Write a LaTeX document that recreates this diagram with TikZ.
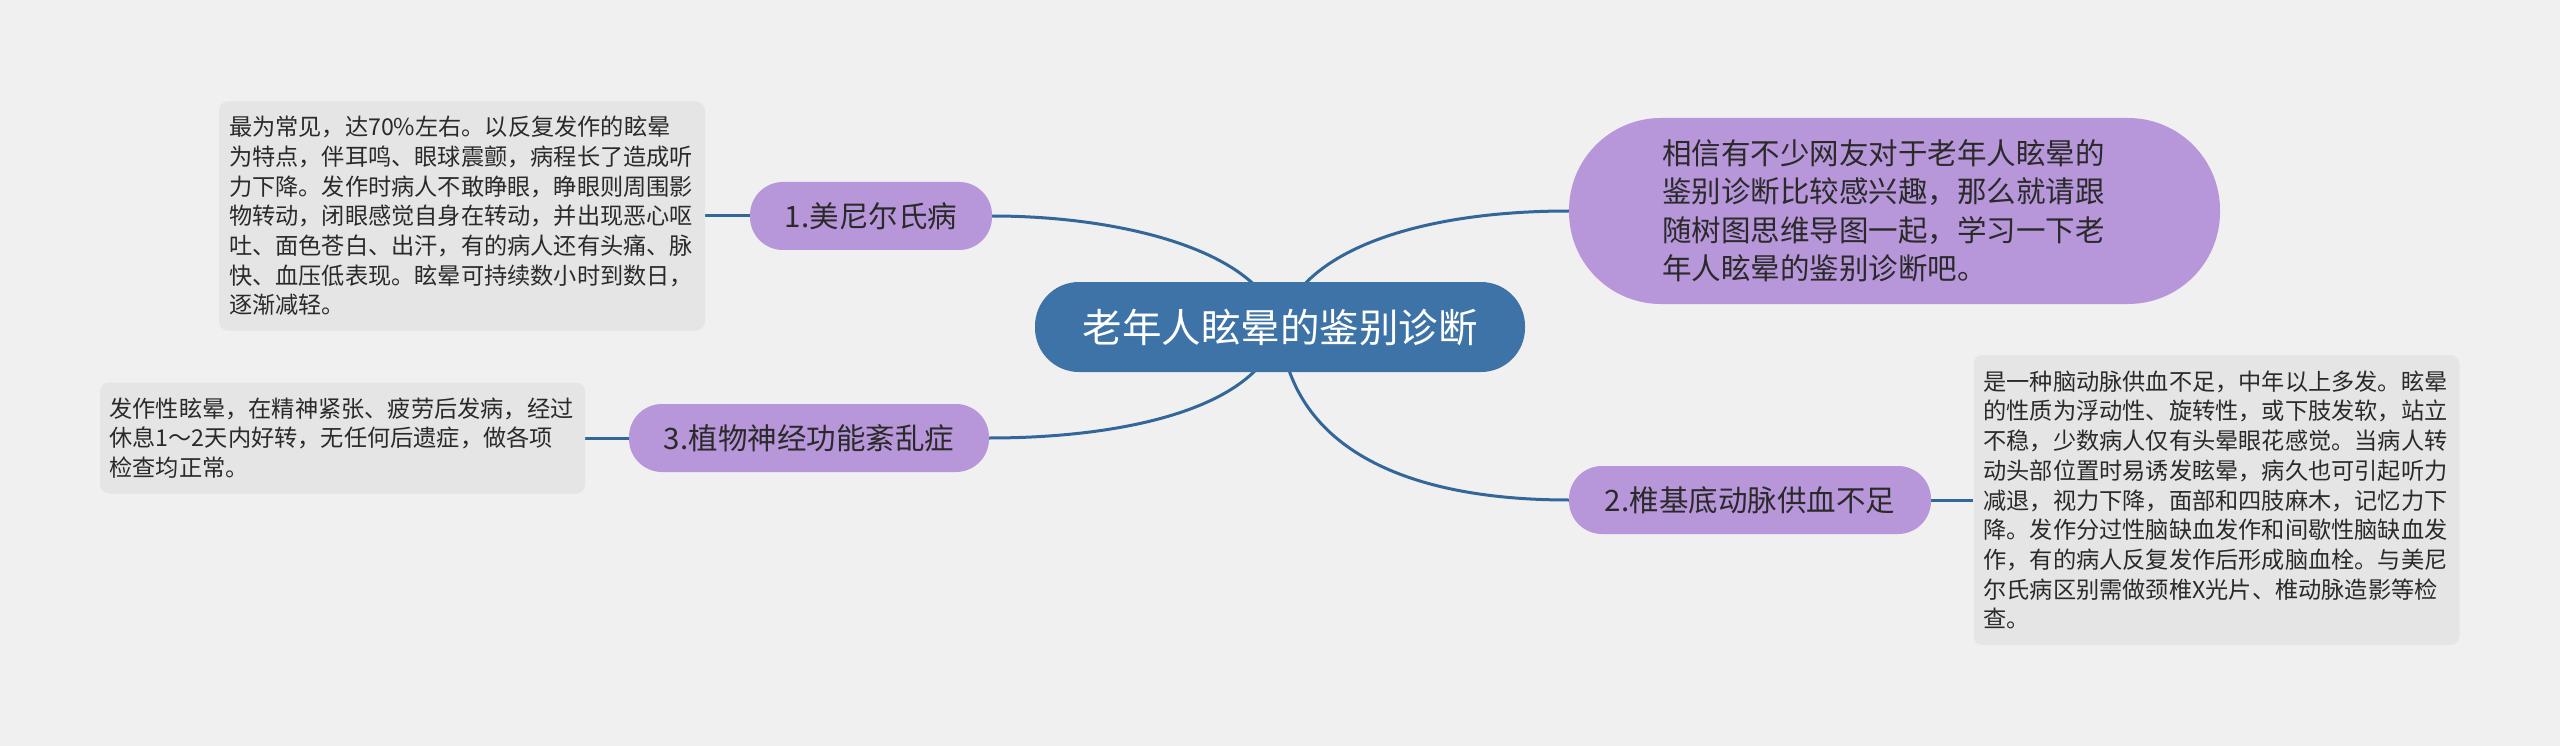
\documentclass[tikz,border=0pt]{standalone}
\usepackage{fontspec}
\newfontfamily\cjk{Noto Sans CJK SC}
\definecolor{bg}{HTML}{F0F0F0}
\definecolor{mainblue}{HTML}{3D73A6}
\definecolor{linkblue}{HTML}{33679A}
\definecolor{lilac}{HTML}{B796DA}
\definecolor{boxgray}{HTML}{E5E5E5}
\definecolor{ink}{HTML}{2A2A2A}
\pgfdeclarelayer{paper}
\pgfdeclarelayer{links}
\pgfsetlayers{paper,links,main}
\begin{document}
\begin{tikzpicture}[x=1pt,y=-1pt,
  centralbox/.style={fill=mainblue, rounded corners=44pt, minimum width=490pt, minimum height=90pt, inner sep=0pt, text=white, font=\cjk\fontsize{39.5}{47}\selectfont},
  branchbox/.style={fill=lilac, rounded corners=33pt, minimum height=68pt, inner sep=0pt, text=ink, font=\cjk\fontsize{29.5}{36}\selectfont},
  introbox/.style={fill=lilac, rounded corners=92pt, minimum width=651pt, minimum height=186pt, inner sep=0pt, text=ink, align=left, text width=465pt, font=\cjk\fontsize{29.5}{38.5}\selectfont},
  notebox/.style={fill=boxgray, rounded corners=9pt, inner sep=0pt, text=ink, align=left, text width=466pt, font=\cjk\fontsize{23.2}{29.7}\selectfont},
  link/.style={draw=linkblue, line width=3pt}
]
\begin{pgfonlayer}{paper}
\fill[bg] (0,0) rectangle (2560,746);
\end{pgfonlayer}
\useasboundingbox (0,0) rectangle (2560,746);

\node[centralbox] (c) at (1280,327) {老年人眩晕的鉴别诊断};

\node[introbox] (intro) at (1894.5,211) {相信有不少网友对于老年人眩晕的\\鉴别诊断比较感兴趣，那么就请跟\\随树图思维导图一起，学习一下老\\年人眩晕的鉴别诊断吧。};

\node[branchbox, minimum width=242pt] (b1) at (871,216) {1.美尼尔氏病};
\node[branchbox, minimum width=360pt] (b3) at (809,438) {3.植物神经功能紊乱症};
\node[branchbox, minimum width=362pt] (b2) at (1750,500) {2.椎基底动脉供血不足};

\node[notebox, minimum width=486pt, minimum height=229pt] (t1) at (462,216) {最为常见，达70\%左右。以反复发作的眩晕\\为特点，伴耳鸣、眼球震颤，病程长了造成听\\力下降。发作时病人不敢睁眼，睁眼则周围影\\物转动，闭眼感觉自身在转动，并出现恶心呕\\吐、面色苍白、出汗，有的病人还有头痛、脉\\快、血压低表现。眩晕可持续数小时到数日，\\逐渐减轻。};

\node[notebox, minimum width=485pt, minimum height=111pt] (t3) at (342.5,438) {发作性眩晕，在精神紧张、疲劳后发病，经过\\休息1～2天内好转，无任何后遗症，做各项\\检查均正常。};

\node[notebox, minimum width=486pt, minimum height=290pt] (t2) at (2216.5,500) {是一种脑动脉供血不足，中年以上多发。眩晕\\的性质为浮动性、旋转性，或下肢发软，站立\\不稳，少数病人仅有头晕眼花感觉。当病人转\\动头部位置时易诱发眩晕，病久也可引起听力\\减退，视力下降，面部和四肢麻木，记忆力下\\降。发作分过性脑缺血发作和间歇性脑缺血发\\作，有的病人反复发作后形成脑血栓。与美尼\\尔氏病区别需做颈椎X光片、椎动脉造影等检\\查。};

\begin{pgfonlayer}{links}
\draw[link] (c.center) .. controls (1262,250) and (1120,216) .. (b1.east);
\draw[link] (c.center) .. controls (1300,250) and (1420,211) .. (intro.west);
\draw[link] (c.center) .. controls (1262,410) and (1120,438) .. (b3.east);
\draw[link] (c.center) .. controls (1290,445) and (1400,500) .. (b2.west);
\draw[link] (b1.west) -- (t1.east);
\draw[link] (b3.west) -- (t3.east);
\draw[link] (b2.east) -- (t2.west);
\end{pgfonlayer}
\end{tikzpicture}
\end{document}
